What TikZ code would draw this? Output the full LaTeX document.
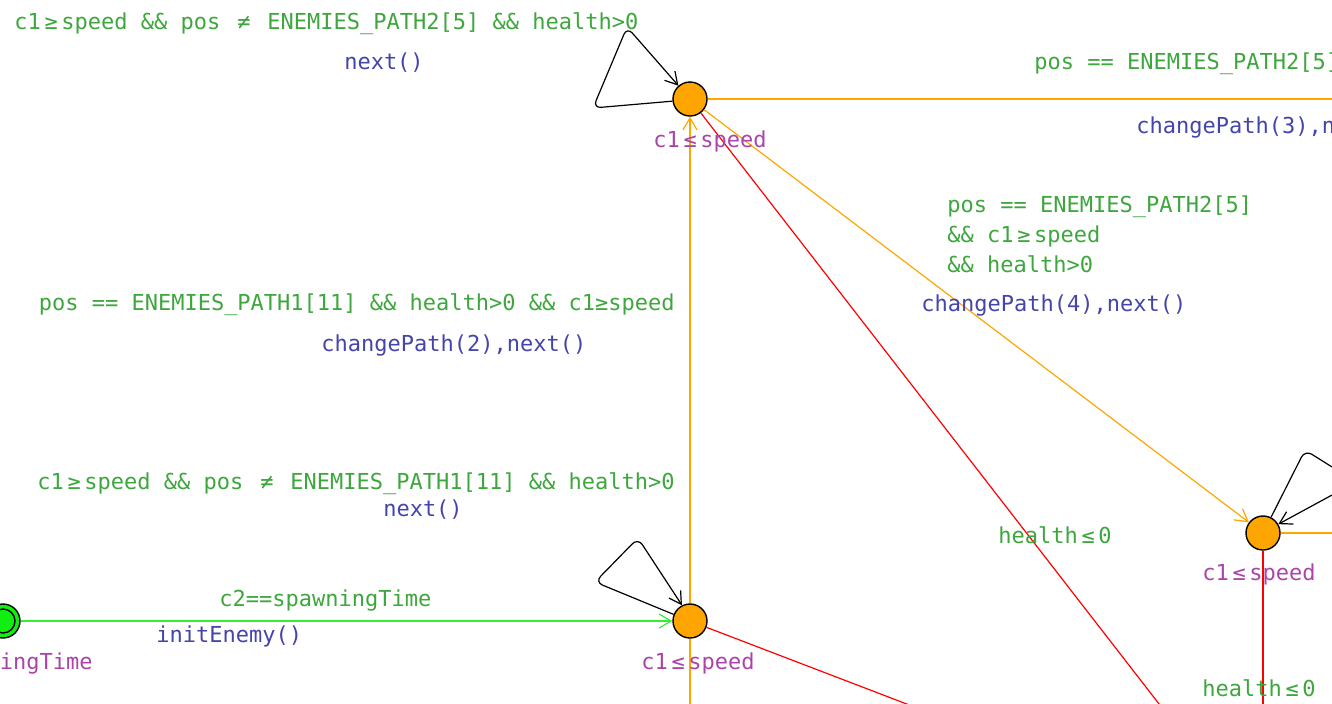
\documentclass[tikz,border=0pt]{standalone}
\usepackage{fontspec}
\setmonofont{DejaVu Sans Mono}
\usetikzlibrary{arrows.meta}
\definecolor{guard}{HTML}{3DA63D}
\definecolor{update}{HTML}{4444AA}
\definecolor{invar}{HTML}{AA44AA}
\definecolor{edgeorange}{HTML}{FFA500}
\definecolor{edgered}{HTML}{FF0000}
\definecolor{edgegreen}{HTML}{33EE33}
\definecolor{initgreen}{HTML}{11EE11}
\newcommand{\gte}{\,≥\,}
\newcommand{\lte}{\,≤\,}
\tikzset{
  every node/.style={font=\ttfamily\fontsize{11}{15}\selectfont},
  arr/.style={-{Straight Barb[length=6pt,width=7pt]},line width=.6pt},
  plain/.style={line width=.6pt},
  loopedge/.style={arr,draw=black,rounded corners=4pt},
  state/.style={circle,draw=black,line width=.7pt,fill=edgeorange,minimum size=17pt,inner sep=0},
  initstate/.style={state,fill=initgreen},
  grd/.style={text=guard,inner sep=0},
  upd/.style={text=update,inner sep=0},
  inv/.style={text=invar,inner sep=0}
}
\begin{document}
\begin{tikzpicture}[x=.5pt,y=-.5pt]
  \path[use as bounding box] (0,0) rectangle (1332,703);

  % locations
  \node[state] (stA) at (690,99) {};
  \node[state] (stB) at (690,621) {};
  \node[state] (stC) at (1263,533) {};
  \node[initstate] (init) at (3,621) {};
  \node[initstate,minimum size=12pt] (initin) at (3,621) {};

  % ends that leave the view
  \coordinate (offAr) at (1400,99);
  \coordinate (offAd) at (1218,780);
  \coordinate (offBd) at (1053,760);
  \coordinate (offBs) at (690,780);
  \coordinate (offCr) at (1400,533);
  \coordinate (offCs) at (1263,780);

  % edges
  \draw[arr,draw=edgegreen] (init) -- (stB);
  \draw[arr,draw=edgeorange] (stB) -- (stA);
  \draw[arr,draw=edgeorange] (stA) -- (stC);
  \draw[plain,draw=edgeorange] (stA) -- (offAr);
  \draw[plain,draw=edgered] (stA) -- (offAd);
  \draw[plain,draw=edgered] (stB) -- (offBd);
  \draw[plain,draw=edgeorange] (stB) -- (offBs);
  \draw[plain,draw=edgeorange] (stC) -- (offCr);
  \draw[plain,draw=edgered] (stC) -- (offCs);
  \draw[loopedge] (stA.187) -- (593,108) -- (627,27) -- (stA.131);
  \draw[loopedge] (stB.158) -- (595,582) -- (638,538) -- (stB.117);
  \draw[loopedge] (stC.63) -- (1305,450) -- (1356,482) -- (stC.30);

  % invariants
  \node[inv,anchor=west] (invA) at (653,141) {c1\lte speed};
  \node[inv,anchor=west] (invB) at (641,663) {c1\lte speed};
  \node[inv,anchor=west] (invC) at (1202,574) {c1\lte speed};
  \node[inv,anchor=east] (invI) at (93,663) {c2\lte spawningTime};

  % guards and updates
  \node[grd,anchor=west] (gLoopA) at (14,24) {c1\gte speed \&\& pos \,≠\, ENEMIES\_PATH2[5] \&\& health>0};
  \node[upd] (uLoopA) at (384,63) {next()};
  \node[grd,anchor=west] (gAR) at (1034,64) {pos == ENEMIES\_PATH2[5]};
  \node[upd,anchor=west] (uAR) at (1136,127) {changePath(3),next()};
  \node[grd,anchor=west,align=left] (gAC) at (947,234) {pos == ENEMIES\_PATH2[5]\\\&\& c1\gte speed\\\&\& health>0};
  \node[upd,anchor=west] (uAC) at (921,305) {changePath(4),next()};
  \node[grd,anchor=east] (gBA) at (675,305) {pos == ENEMIES\_PATH1[11] \&\& health>0 \&\& c1≥speed};
  \node[upd,anchor=west] (uBA) at (321,345) {changePath(2),next()};
  \node[grd,anchor=east] (gLoopB) at (675,484) {c1\gte speed \&\& pos \,≠\, ENEMIES\_PATH1[11] \&\& health>0};
  \node[upd] (uLoopB) at (423,510) {next()};
  \node[grd,anchor=west] (gIB) at (219,600) {c2==spawningTime};
  \node[upd,anchor=west] (uIB) at (156,636) {initEnemy()};
  \node[grd,anchor=west] (gAd) at (998,535) {health\lte 0};
  \node[grd,anchor=west] (gCs) at (1202,688) {health\lte 0};
\end{tikzpicture}
\end{document}
